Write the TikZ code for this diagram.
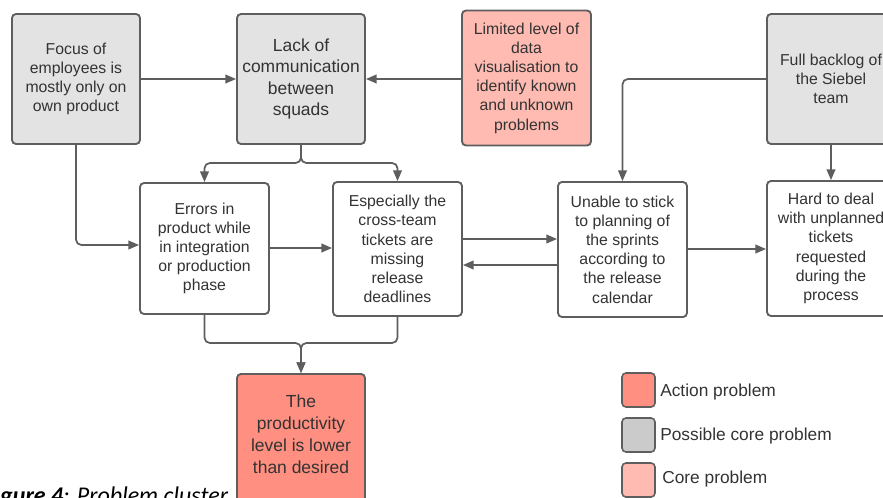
\documentclass[tikz,border=0pt]{standalone}
\usepackage{fontspec}
\setmainfont{Liberation Sans}
\newfontfamily\capfont{Carlito}
\usetikzlibrary{arrows.meta}

\definecolor{edgegray}{HTML}{5E5E5E}
\definecolor{txtgray}{HTML}{333333}
\definecolor{coregray}{HTML}{E3E3E3}
\definecolor{legendgray}{HTML}{CBCBCB}
\definecolor{actionred}{HTML}{FF8F80}
\definecolor{corepink}{HTML}{FFBBB1}

\tikzset{
  box/.style={draw=edgegray, line width=1.4pt, rounded corners=3pt, align=center,
    text=txtgray, inner sep=2pt, minimum width=96pt,
    font=\fontsize{11.85}{14.4}\selectfont},
  bigtext/.style={font=\fontsize{13.1}{15.8}\selectfont},
  link/.style={draw=edgegray, line width=1.3pt, rounded corners=4pt,
    -{Triangle[length=8pt,width=6.5pt]}},
  keybox/.style={draw=edgegray, line width=1.2pt, rounded corners=3pt,
    minimum width=24.75pt, minimum height=25.5pt, inner sep=0pt},
  keytext/.style={anchor=west, text=txtgray, inner sep=0pt,
    font=\fontsize{13}{15}\selectfont},
}

\begin{document}
\begin{tikzpicture}[x=0.75pt, y=-0.75pt]
\useasboundingbox (0,0) rectangle (883,497);
\clip (0,0) rectangle (883,497);

% top row
\node[box, fill=coregray, minimum height=97.5pt] (focus) at (76,79)
  {Focus of\\employees is\\mostly only on\\own product};
\node[box, bigtext, fill=coregray, minimum height=97.5pt] (lack) at (301,79)
  {Lack of\\communication\\between\\squads};
\node[box, fill=corepink, minimum width=96.75pt, minimum height=101.25pt] (limited) at (526.5,78)
  {Limited level of\\data\\visualisation to\\identify known\\and unknown\\problems};
\node[box, fill=coregray, minimum height=97.5pt] (full) at (831,79)
  {Full backlog of\\the Siebel\\team};

% middle row
\node[box, fill=white, minimum width=96.75pt, minimum height=98.25pt] (errors) at (204.5,248.5)
  {Errors in\\product while\\in integration\\or production\\phase};
\node[box, fill=white, minimum width=96.75pt, minimum height=100.5pt] (especially) at (397.5,249)
  {Especially the\\cross-team\\tickets are\\missing\\release\\deadlines};
\node[box, fill=white, minimum width=96.75pt, minimum height=101.25pt] (unable) at (622.5,249.5)
  {Unable to stick\\to planning of\\the sprints\\according to\\the release\\calendar};
\node[box, fill=white, minimum height=101.25pt] (hard) at (831,248.5)
  {Hard to deal\\with unplanned\\tickets\\requested\\during the\\process};

% bottom
\node[box, fill=actionred, minimum height=100.5pt, anchor=north,
  font=\fontsize{13.1}{16.3}\selectfont] (prod) at (301,373)
  {The\\productivity\\level is lower\\than desired\\[-11pt]\strut};

% connectors
\draw[link] (focus.east) -- (lack.west);
\draw[link] (limited.west |- lack.east) -- (lack.east);
\draw[link] (focus.south) |- (errors.west |- 0,245);
\draw[link] (lack.south) -- (lack.south |- 0,163) -| (errors.north);
\draw[link] (lack.south) -- (lack.south |- 0,163) -| (especially.north);
\draw[link] (errors.east |- 0,248) -- (especially.west |- 0,248);
\draw[link] (especially.east |- 0,239) -- (unable.west |- 0,239);
\draw[link] (unable.west |- 0,265) -- (especially.east |- 0,265);
\draw[link] (full.west) -| (unable.north);
\draw[link] (full.south) -- (hard.north);
\draw[link] (unable.east |- 0,249) -- (hard.west |- 0,249);
\draw[link] (errors.south) |- (prod.north |- 0,343) -- (prod.north);
\draw[link] (especially.south) |- (prod.north |- 0,343) -- (prod.north);

% legend
\node[keybox, fill=actionred] (keyaction) at (638.5,390) {};
\node[keybox, fill=legendgray] (keypossible) at (638.5,435) {};
\node[keybox, fill=corepink] (keycore) at (638.5,480) {};
\node[keytext] (keyactiontxt) at (660,392) {Action problem};
\node[keytext] (keypossibletxt) at (660,436) {Possible core problem};
\node[keytext] (keycoretxt) at (662,479) {Core problem};

% caption
\node[anchor=base west, inner sep=0pt, text=black,
  font=\capfont\fontsize{18}{20}\selectfont] (caption) at (-17,503)
  {\textbf{\textit{Figure 4}}\textit{: Problem cluster}};
\end{tikzpicture}
\end{document}
